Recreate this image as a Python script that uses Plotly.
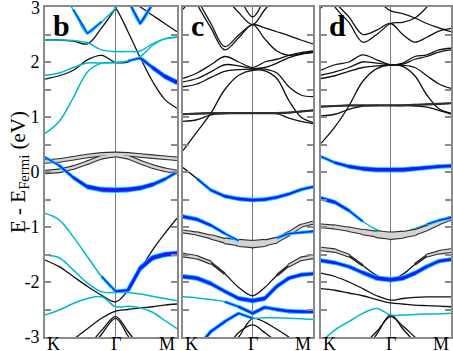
import plotly.graph_objects as go

# k-path sample points: K -> Gamma -> M (Gamma-M shorter by sqrt(3)/2)
k_path = [0.0, 0.2, 0.4, 0.6, 0.8, 1.0, 1.1732, 1.3464, 1.5196, 1.6928, 1.866]
k_ticks = [0.0, 1.0, 1.866]
k_text = ["K", "Γ", "M"]
panel_tags = ["b", "c", "d"]
e_ticks = [-3, -2.5, -2, -1.5, -1, -0.5, 0, 0.5, 1, 1.5, 2, 2.5, 3]

# ---- panel b : band energies (eV) read at the k_path points ----
bands_b = {
    "b01": [3.6, 3.3, 2.95, 2.52, 2.73, 2.98, 3.3, 3.6, 3.9, 4.2, 4.4],
    "b02": [4.5, 4.2, 3.9, 3.6, 3.25, 2.98, 2.55, 2.08, 1.65, 1.32, 1.16],
    "b03": [4.6, 4.4, 4.1, 3.8, 3.5, 3.3, 3.12, 3.0, 2.85, 2.7, 2.55],
    "b04": [4.6, 4.5, 4.3, 4.1, 3.8, 3.5, 3.12, 2.7, 3.05, 3.4, 3.7],
    "b05": [2.40, 2.40, 2.39, 2.35, 2.22, 2.19, 2.19, 2.2, 2.33, 2.42, 2.45],
    "b06": [1.69, 1.75, 1.85, 2.04, 2.12, 1.99, 2.0, 2.08, 1.92, 1.76, 1.64],
    "b07": [1.76, 1.8, 1.9, 1.98, 1.98, 1.99, 2.02, 2.07, 1.9, 1.74, 1.63],
    "b08": [2.40, 2.40, 2.38, 2.33, 2.62, 2.98, 3.3, 3.6, 3.9, 4.2, 4.4],
    "b09": [0.7, 0.92, 1.35, 1.82, 1.98, 1.99, 2.02, 2.1, 2.3, 2.42, 2.45],
    "b10": [0.19, 0.21, 0.25, 0.29, 0.32, 0.33, 0.32, 0.3, 0.28, 0.26, 0.24],
    "b11": [0.0, 0.02, 0.08, 0.17, 0.27, 0.31, 0.27, 0.18, 0.1, 0.04, 0.0],
    "b12": [0.27, 0.12, -0.1, -0.27, -0.32, -0.33, -0.32, -0.29, -0.23, -0.13, 0.0],
    "b13": [-0.75, -0.87, -1.18, -1.54, -1.9, -2.17, -2.15, -1.75, -1.56, -1.5, -1.48],
    "b14": [-1.6, -1.72, -1.9, -2.08, -2.24, -2.36, -2.15, -1.78, -1.42, -1.12, -0.84],
    "b15": [-1.51, -1.56, -1.78, -2.02, -2.18, -2.19, -2.19, -2.22, -2.26, -2.3, -2.34],
    "b16": [-2.6, -2.51, -2.39, -2.3, -2.27, -2.45, -2.44, -2.47, -2.55, -2.7, -2.85],
    "b17": [-3.6, -3.3, -3.05, -2.85, -2.66, -2.53, -2.5, -2.47, -2.45, -2.42, -2.4],
    "b18": [-4.2, -3.9, -3.55, -3.2, -2.88, -2.63, -2.9, -3.2, -3.5, -3.8, -4.1],
    "b19": [-4.5, -4.1, -3.7, -3.3, -2.95, -2.66, -2.98, -3.3, -3.6, -3.9, -4.2],
}
cyan_b = ["b01", "b04", "b05", "b07", "b09", "b12", "b13", "b15", "b16"]
blue_b = {
    "b01": [0, 0, 0, 0.12, 0, 0, 0, 0, 0, 0, 0],
    "b04": [0, 0, 0, 0, 0, 0, 0, 0.3, 0, 0, 0],
    "b07": [0, 0, 0, 0, 0, 0, 0, 0.1, 0.5, 0.8, 1.0],
    "b12": [0, 0.1, 0.4, 0.8, 1, 1, 1, 0.9, 0.7, 0.4, 0.1],
    "b13": [0, 0, 0, 0, 0, 0.2, 0.5, 0.8, 1, 1, 1],
}
ring_b = {
    "b10": [0.4, 0.4, 0.4, 0.4, 0.4, 0.4, 0.4, 0.4, 0.4, 0.4, 0.4],
    "b11": [0.4, 0.4, 0.4, 0.4, 0.4, 0.4, 0.4, 0.4, 0.4, 0.4, 0.4],
}

# ---- panel c ----
bands_c = {
    "c01": [4.5, 4.2, 3.9, 3.6, 3.2, 2.82, 3.15, 3.5, 3.8, 4.1, 4.3],
    "c02": [3.6, 3.15, 2.7, 2.28, 2.49, 2.68, 2.62, 2.55, 2.48, 2.4, 2.33],
    "c03": [3.5, 3.05, 2.62, 2.22, 2.44, 2.68, 2.42, 2.2, 2.12, 2.15, 2.19],
    "c04": [4.4, 4.0, 3.6, 3.2, 2.9, 2.68, 2.95, 3.2, 3.5, 3.8, 4.0],
    "c05": [2.96, 3.25, 3.6, 3.9, 4.2, 4.4, 4.4, 4.4, 4.4, 4.4, 4.4],
    "c06": [1.70, 1.8, 1.95, 2.1, 2.0, 1.9, 2.0, 2.05, 2.12, 2.17, 2.2],
    "c07": [1.64, 1.7, 1.82, 1.95, 1.93, 1.88, 1.9, 1.98, 2.08, 2.14, 2.17],
    "c08": [1.55, 1.6, 1.72, 1.83, 1.86, 1.87, 1.87, 1.8, 1.55, 1.4, 1.37],
    "c09": [0.39, 0.73, 1.07, 1.5, 1.76, 1.85, 1.84, 1.7, 1.3, 1.0, 0.9],
    "c10": [1.05, 1.06, 1.07, 1.07, 1.07, 1.07, 1.07, 1.07, 1.08, 1.1, 1.12],
    "c11": [0.92, 0.95, 1.04, 1.06, 1.07, 1.07, 1.07, 1.06, 0.98, 0.92, 0.88],
    "c12": [0.08, -0.12, -0.33, -0.44, -0.49, -0.51, -0.5, -0.46, -0.4, -0.32, -0.27],
    "c13": [-0.81, -0.86, -0.97, -1.12, -1.25, -1.3, -1.27, -1.2, -1.12, -1.1, -1.08],
    "c14": [-1.08, -1.12, -1.18, -1.25, -1.29, -1.31, -1.29, -1.24, -1.12, -0.98, -0.92],
    "c15": [-1.51, -1.55, -1.65, -1.85, -2.1, -2.25, -2.1, -1.88, -1.7, -1.58, -1.54],
    "c16": [-1.9, -1.93, -2.03, -2.17, -2.3, -2.34, -2.3, -2.08, -1.93, -1.87, -1.85],
    "c17": [-2.27, -2.29, -2.32, -2.36, -2.45, -2.57, -2.46, -2.5, -2.53, -2.54, -2.54],
    "c18": [-3.5, -3.2, -2.9, -2.72, -2.57, -2.66, -2.65, -2.65, -2.66, -2.67, -2.68],
    "c19": [-4.2, -3.9, -3.6, -3.3, -3.0, -2.66, -2.73, -2.86, -3.0, -3.15, -3.3],
    "c20": [-4.2, -3.9, -3.55, -3.25, -2.92, -2.78, -2.92, -3.1, -3.4, -3.7, -4.0],
}
cyan_c = ["c13", "c16", "c17", "c18"]
blue_c = {
    "c12": [0, 0, 0.3, 0.5, 0.6, 0.6, 0.6, 0.5, 0.4, 0.3, 0.3],
    "c13": [0.7, 0.6, 0.4, 0.1, 0, 0, 0, 0, 0.1, 0.2, 0.3],
    "c16": [0.8, 0.8, 0.7, 0.5, 0.6, 1, 0.7, 0.5, 0.6, 0.6, 0.6],
    "c17": [0, 0, 0, 0, 0.2, 0.6, 0.4, 0.5, 0.6, 0.6, 0.6],
    "c18": [0.2, 0.3, 0.4, 0.3, 0.2, 0, 0, 0, 0, 0, 0],
}
ring_c = {
    "c10": [0.06, 0.06, 0.06, 0.06, 0.06, 0.06, 0.06, 0.06, 0.06, 0.06, 0.06],
    "c14": [0.3, 0.35, 0.45, 0.6, 0.85, 1.0, 0.85, 0.6, 0.45, 0.35, 0.3],
    "c15": [0.45, 0.4, 0.25, 0, 0, 0, 0, 0, 0.25, 0.4, 0.45],
}

# ---- panel d ----
bands_d = {
    "d01": [4.4, 4.1, 3.8, 3.5, 3.15, 2.93, 2.88, 2.8, 2.7, 2.62, 2.55],
    "d02": [3.6, 3.1, 2.82, 2.5, 2.58, 2.7, 2.5, 2.36, 2.45, 2.56, 2.61],
    "d03": [3.5, 3.0, 2.72, 2.36, 2.5, 2.7, 2.72, 2.8, 3.0, 3.3, 3.6],
    "d04": [2.98, 3.3, 3.6, 3.9, 4.2, 4.4, 4.4, 4.4, 4.4, 4.4, 4.4],
    "d05": [1.85, 1.95, 2.0, 2.13, 2.04, 1.95, 1.98, 2.1, 2.13, 2.22, 2.25],
    "d06": [1.76, 1.82, 1.9, 2.0, 1.98, 1.95, 1.96, 2.05, 2.1, 2.18, 2.22],
    "d07": [1.70, 1.75, 1.83, 1.9, 1.93, 1.94, 1.94, 1.9, 1.75, 1.6, 1.52],
    "d08": [0.52, 0.82, 1.2, 1.65, 1.88, 1.95, 1.92, 1.75, 1.4, 1.15, 1.07],
    "d09": [1.19, 1.2, 1.21, 1.21, 1.21, 1.21, 1.21, 1.22, 1.23, 1.24, 1.25],
    "d10": [1.02, 1.05, 1.14, 1.2, 1.21, 1.21, 1.21, 1.2, 1.18, 1.12, 1.05],
    "d11": [0.28, 0.17, 0.1, 0.06, 0.04, 0.04, 0.04, 0.06, 0.08, 0.1, 0.11],
    "d12": [-0.48, -0.55, -0.7, -0.9, -1.05, -1.15, -1.1, -1.03, -0.95, -0.88, -0.83],
    "d13": [-0.98, -1.0, -1.04, -1.09, -1.13, -1.16, -1.14, -1.1, -1.02, -0.92, -0.84],
    "d14": [-1.4, -1.43, -1.52, -1.7, -1.88, -1.96, -1.86, -1.68, -1.52, -1.46, -1.43],
    "d15": [-1.61, -1.65, -1.72, -1.83, -1.93, -1.96, -1.93, -1.84, -1.72, -1.62, -1.59],
    "d16": [-1.84, -1.9, -2.0, -2.12, -2.25, -2.33, -2.3, -2.28, -2.27, -2.27, -2.27],
    "d17": [-2.12, -2.15, -2.2, -2.25, -2.32, -2.38, -2.4, -2.42, -2.43, -2.44, -2.45],
    "d18": [-3.1, -2.87, -2.72, -2.57, -2.48, -2.6, -2.6, -2.59, -2.58, -2.58, -2.57],
    "d19": [-4.2, -3.9, -3.6, -3.3, -2.95, -2.6, -2.85, -3.1, -3.4, -3.7, -4.0],
    "d20": [-4.0, -3.7, -3.4, -3.15, -2.9, -2.63, -2.8, -3.0, -3.2, -3.4, -3.6],
}
cyan_d = ["d11", "d12", "d15", "d18"]
blue_d = {
    "d11": [0, 0.3, 0.6, 0.8, 0.9, 0.9, 0.9, 0.8, 0.7, 0.6, 0.6],
    "d12": [0.8, 0.6, 0.3, 0, 0, 0, 0, 0, 0, 0.1, 0.2],
    "d15": [0.7, 0.6, 0.5, 0.6, 0.9, 1, 0.9, 0.7, 0.6, 0.6, 0.6],
}
ring_d = {
    "d09": [0.06, 0.06, 0.06, 0.06, 0.06, 0.06, 0.06, 0.06, 0.06, 0.06, 0.06],
    "d13": [0.4, 0.45, 0.5, 0.6, 0.8, 1.0, 0.85, 0.7, 0.6, 0.5, 0.4],
    "d14": [0.4, 0.4, 0.25, 0, 0, 0, 0, 0, 0.25, 0.4, 0.45],
}

panels = [
    (bands_b, cyan_b, blue_b, ring_b),
    (bands_c, cyan_c, blue_c, ring_c),
    (bands_d, cyan_d, blue_d, ring_d),
]

FONT = "Liberation Serif"
BLACK = "#101010"
CYAN_LINE = "#00b8cc"
HALO = "#00d4ff"
CORE = "#1a1aff"
RING_OUT = "#2e2e2e"
RING_IN = "#d4d4d4"
FRAME = "#8a8a8a"

fig = go.Figure()
xs = ["x", "x2", "x3"]
ys = ["y", "y2", "y3"]


def thin(p, e, color, width):
    fig.add_trace(go.Scatter(
        x=k_path, y=e, mode="lines", xaxis=xs[p], yaxis=ys[p],
        line=dict(color=color, width=width, shape="spline", smoothing=1),
        hoverinfo="skip", showlegend=False))


def fat(p, e, w, color, base, scale, add, min_w=0.8):
    for i in range(len(e) - 1):
        a = (w[i] + w[i + 1]) / 2
        if a <= 0:
            continue
        width = base + scale * a + add
        if width < min_w:
            continue
        fig.add_trace(go.Scatter(
            x=k_path[i:i + 2], y=e[i:i + 2], mode="lines", xaxis=xs[p], yaxis=ys[p],
            line=dict(color=color, width=width), hoverinfo="skip", showlegend=False))
    sizes = [max(base + scale * v + add, 0) if v > 0 else 0 for v in w]
    fig.add_trace(go.Scatter(
        x=k_path, y=e, mode="markers", xaxis=xs[p], yaxis=ys[p],
        marker=dict(size=sizes, color=color, line=dict(width=0)),
        hoverinfo="skip", showlegend=False))


# thin band lines: black first, cyan ones on top
for p, (bands, cyans, blues, rings) in enumerate(panels):
    for name, e in bands.items():
        if name not in cyans:
            thin(p, e, BLACK, 1.3)
    for name in cyans:
        thin(p, bands[name], CYAN_LINE, 1.5)

# hollow-circle weights
for p, (bands, cyans, blues, rings) in enumerate(panels):
    for name, w in rings.items():
        fat(p, bands[name], w, RING_OUT, 1.8, 7.0, 0)
    for name, w in rings.items():
        fat(p, bands[name], w, RING_IN, 1.8, 7.0, -2.2, min_w=1.2)

# blue fat bands: cyan halo then blue core
for p, (bands, cyans, blues, rings) in enumerate(panels):
    for name, w in blues.items():
        fat(p, bands[name], w, HALO, 1.0, 2.8, 1.8)
for p, (bands, cyans, blues, rings) in enumerate(panels):
    for name, w in blues.items():
        fat(p, bands[name], w, CORE, 1.0, 2.8, 0)

doms = [[0.0, 0.3251], [0.3399, 0.6601], [0.6798, 1.0]]
# the top label "3" is placed as an annotation so it is not dropped at the edge
e_text = [str(int(v)) if v == int(v) and v < 3 else " " for v in e_ticks]
layout = {}
for i in range(3):
    sfx = "" if i == 0 else str(i + 1)
    layout["xaxis" + sfx] = dict(
        domain=doms[i], range=[0, 1.866], anchor=ys[i], automargin=False,
        showline=True, mirror=True, linecolor=FRAME, linewidth=2,
        tickvals=[1.0], ticks="", showticklabels=False,
        showgrid=True, gridcolor="#7a7a7a", gridwidth=1, zeroline=False)
    layout["yaxis" + sfx] = dict(
        range=[-3, 3], anchor=xs[i], automargin=False,
        showline=True, mirror="ticks", linecolor=FRAME, linewidth=2,
        ticks="inside", ticklen=6, tickwidth=1.5, tickcolor=FRAME,
        tickvals=e_ticks, ticktext=e_text, showticklabels=(i == 0),
        tickfont=dict(family=FONT, size=18, color="black"),
        showgrid=False, zeroline=False)

annotations = [
    dict(x=-0.064, y=0.5, xref="paper", yref="paper", textangle=-90,
         text="E - E<sub>Fermi</sub> (eV)", showarrow=False,
         xanchor="center", yanchor="middle",
         font=dict(family=FONT, size=21, color="black")),
    dict(x=0, y=e_ticks[-1], xref="paper", yref="y", text=str(e_ticks[-1]),
         showarrow=False, xanchor="right", yanchor="middle", xshift=-3, yshift=-1,
         font=dict(family=FONT, size=18, color="black")),
]
for i in range(3):
    annotations.append(dict(
        x=0.09, y=3.0, xref=xs[i], yref=ys[i], text="<b>%s</b>" % panel_tags[i],
        showarrow=False, xanchor="left", yanchor="top",
        font=dict(family=FONT, size=30, color="black")))
    for kv, kt, anc in zip(k_ticks, k_text, ["left", "center", "right"]):
        annotations.append(dict(
            x=kv, y=0, xref=xs[i], yref="paper", text=kt, showarrow=False,
            xanchor=anc, yanchor="top", yshift=5,
            font=dict(family=FONT, size=18, color="black")))

fig.update_layout(
    width=453, height=351,
    margin=dict(l=45, r=2, t=7, b=14, autoexpand=False),
    plot_bgcolor="white", paper_bgcolor="white",
    showlegend=False, annotations=annotations, **layout)

# drop the page's default body margin so the figure sits at the window origin
fig.write_html("out.html", config={"displayModeBar": False},
               post_script="document.body.style.margin='0px';")
